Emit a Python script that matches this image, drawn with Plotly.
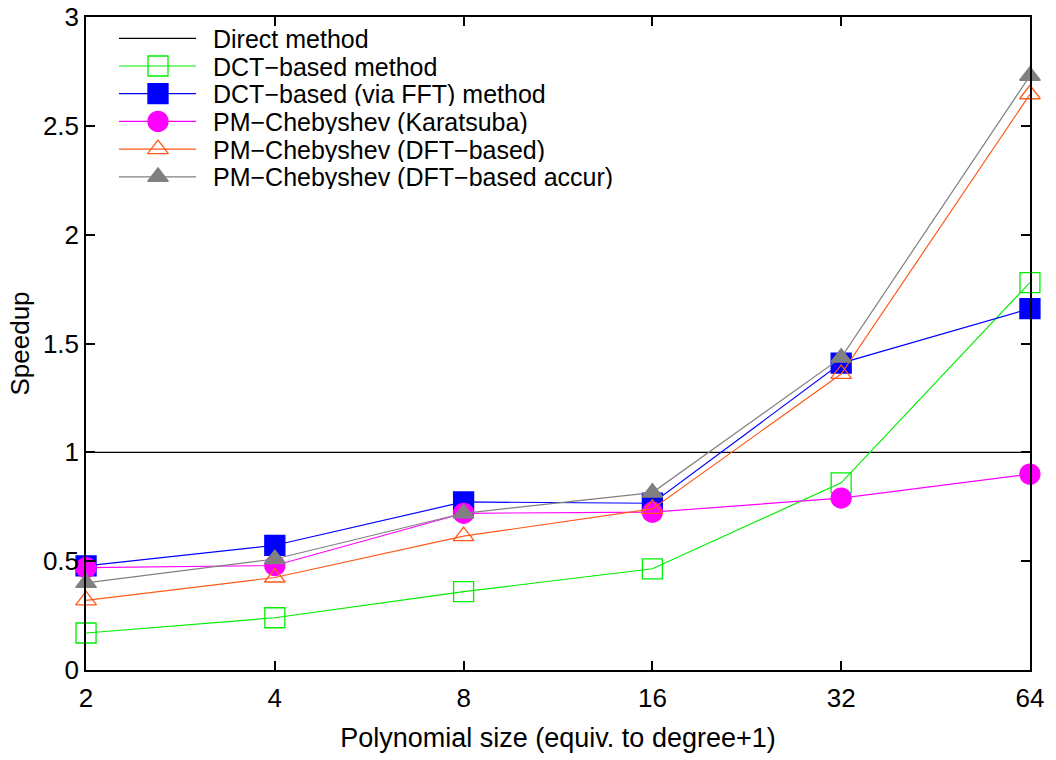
import math
import plotly.graph_objects as go

# Polynomial sizes (equivalent to degree + 1)
sizes = [2, 4, 8, 16, 32, 64]

# Speedup relative to the direct method
direct = [1.0, 1.0, 1.0, 1.0, 1.0, 1.0]
dct = [0.17, 0.24, 0.36, 0.465, 0.86, 1.78]
dct_fft = [0.478, 0.573, 0.772, 0.766, 1.41, 1.66]
pm_karatsuba = [0.47, 0.48, 0.72, 0.725, 0.79, 0.90]
pm_dft = [0.32, 0.425, 0.615, 0.74, 1.36, 2.645]
pm_dft_accur = [0.40, 0.51, 0.72, 0.815, 1.435, 2.73]

series_names = [
    "Direct method",
    "DCT\u2212based method",
    "DCT\u2212based (via FFT) method",
    "PM\u2212Chebyshev (Karatsuba)",
    "PM\u2212Chebyshev (DFT\u2212based)",
    "PM\u2212Chebyshev (DFT\u2212based accur)",
]
series_values = [direct, dct, dct_fft, pm_karatsuba, pm_dft, pm_dft_accur]

y_ticks = [0, 0.5, 1, 1.5, 2, 2.5, 3]
y_tick_text = ["0", "0.5", "1", "1.5", "2", "2.5", "3"]

# Per-series styling: colour, marker symbol, marker size
styles = [
    ("#000000", None, 0),
    ("#00ee00", "square-open", 20),
    ("#0000ff", "square", 20),
    ("#ff00ff", "circle", 20),
    ("#ff5a1a", "triangle-up-open", 18),
    ("#808080", "triangle-up", 18),
]

FONT = "Liberation Sans, Arial, Helvetica, sans-serif"
W, H = 1056, 760
PLOT_L, PLOT_R, PLOT_T, PLOT_B = 86, 1030, 17, 670
PW, PH = PLOT_R - PLOT_L, PLOT_B - PLOT_T


def px_to_paper_x(px):
    return (px - PLOT_L) / PW


def px_to_paper_y(py):
    return (PLOT_B - py) / PH


fig = go.Figure()

for name, vals, (color, symbol, msize) in zip(series_names, series_values, styles):
    if symbol is None:
        fig.add_trace(go.Scatter(
            x=sizes, y=vals, mode="lines", name=name, showlegend=False,
            line=dict(color=color, width=1.2),
        ))
    else:
        fig.add_trace(go.Scatter(
            x=sizes, y=vals, mode="lines+markers", name=name, showlegend=False,
            line=dict(color=color, width=1.2),
            marker=dict(symbol=symbol, size=msize, color=color,
                        line=dict(color=color, width=1.3)),
            cliponaxis=False,
        ))

# Key drawn in the upper-left corner of the plot area
KEY_ROW0, KEY_STEP = 38.3, 27.7
KEY_LINE_X0, KEY_LINE_X1, KEY_MARK_X, KEY_TEXT_X = 119, 196, 158, 212

shapes = []
annotations = []
for i, (name, (color, symbol, msize)) in enumerate(zip(series_names, styles)):
    yy = px_to_paper_y(KEY_ROW0 + i * KEY_STEP)
    shapes.append(dict(
        type="line", xref="paper", yref="paper",
        x0=px_to_paper_x(KEY_LINE_X0), x1=px_to_paper_x(KEY_LINE_X1),
        y0=yy, y1=yy, line=dict(color=color, width=1.2),
    ))
    annotations.append(dict(
        text=name, xref="paper", yref="paper",
        x=px_to_paper_x(KEY_TEXT_X), y=yy, xanchor="left", yanchor="middle",
        height=25, valign="middle", borderpad=0,
        showarrow=False, font=dict(family=FONT, size=25, color="black"),
    ))
    if symbol is not None:
        fig.add_trace(go.Scatter(
            x=[px_to_paper_x(KEY_MARK_X)], y=[yy], mode="markers",
            xaxis="x2", yaxis="y2", showlegend=False, hoverinfo="skip",
            marker=dict(symbol=symbol, size=msize, color=color,
                        line=dict(color=color, width=1.3)),
            cliponaxis=False,
        ))

axis_common = dict(
    showgrid=False, zeroline=False, showline=True, linecolor="black",
    linewidth=1.5, mirror="allticks", ticks="inside", ticklen=9,
    tickcolor="black", tickwidth=1.5, automargin=False,
    tickfont=dict(family=FONT, size=26, color="black"),
)

# small padding so the end points are not dropped at the range limits
EPS = 1e-4

fig.update_layout(
    template="none",
    width=W, height=H,
    margin=dict(l=PLOT_L, r=W - PLOT_R, t=PLOT_T, b=H - PLOT_B, pad=0),
    paper_bgcolor="white", plot_bgcolor="white",
    font=dict(family=FONT, size=26, color="black"),
    showlegend=False,
    xaxis=dict(
        type="log",
        range=[math.log10(sizes[0]) - EPS, math.log10(sizes[-1]) + EPS],
        tickvals=sizes, ticktext=[str(s) for s in sizes],
        ticklabelstandoff=4,
        title=dict(text="Polynomial size (equiv. to degree+1)",
                   font=dict(family=FONT, size=27), standoff=16),
        **axis_common,
    ),
    yaxis=dict(
        range=[0, 3], tickvals=y_ticks, ticktext=y_tick_text,
        title=dict(text="Speedup", font=dict(family=FONT, size=26), standoff=6),
        **axis_common,
    ),
    xaxis2=dict(overlaying="x", anchor="y2", range=[0, 1], visible=False),
    yaxis2=dict(overlaying="y", anchor="x2", range=[0, 1], visible=False),
    shapes=shapes,
    annotations=annotations,
)

fig.write_html("out.html")
